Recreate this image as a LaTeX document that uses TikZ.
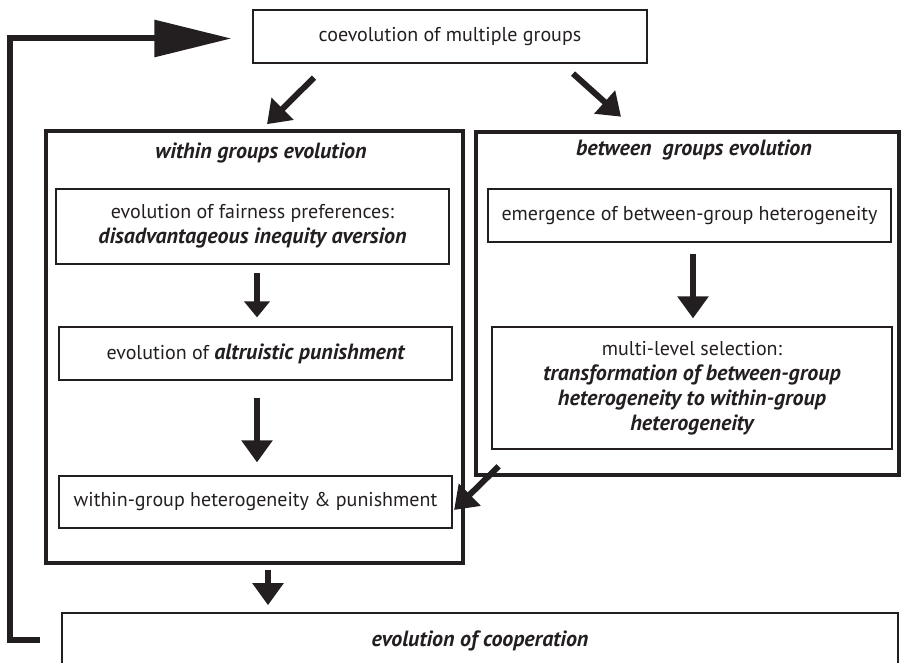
\documentclass[tikz,border=0pt]{standalone}
\usepackage{fontspec}
\setmainfont{PT Sans}
\usetikzlibrary{arrows.meta,calc}

\definecolor{ink}{RGB}{35,31,32}
\newcommand{\bfit}[1]{{\fontsize{11}{12.5}\selectfont\bfseries\itshape #1}}

\tikzset{
  box/.style={draw=ink, line width=.6pt, align=center, inner sep=0pt, text=ink},
  group/.style={draw=ink, line width=1.8pt, inner sep=0pt},
  title/.style={text=ink, font=\fontsize{11}{12.5}\selectfont\bfseries\itshape},
  flow/.style={draw=ink, line width=3pt, -{Triangle[length=11pt,width=15pt]}},
  back/.style={draw=ink, line width=3pt, line join=miter, -{Triangle[length=38.5pt,width=18pt]}},
}

\begin{document}
\begin{tikzpicture}[x=.5pt, y=-.5pt, font=\fontsize{10}{12.5}\selectfont]

\def \innerw {196.5pt}

\useasboundingbox (0,0) rectangle (902,663);

\node (top) [box, minimum width=197pt, minimum height=26.5pt] at (450,36.5) {coevolution of multiple groups};

% the two group frames
\node (leftgrp) [group, minimum width=208.5pt, minimum height=216pt] at (254.5,347) {};
\node (rightgrp) [group, minimum width=211.5pt, minimum height=171.5pt] at (687.5,303.5) {};

\node (lefttitle) [title] at ($(leftgrp.north)+(6.5,24)$) {within groups evolution};
\node (righttitle) [title] at ($(rightgrp.north)+(6.5,20)$) {between\ \ groups evolution};

% within groups
\node (fair) [box, minimum width=\innerw, minimum height=37.5pt] at (252.5,226.5)
  {evolution of fairness preferences:\\ \bfit{disadvantageous inequity aversion}};
\node (altr) [box, minimum width=\innerw, minimum height=26.5pt] at (255.5,353.5)
  {evolution of \bfit{altruistic punishment}};
\node (hetw) [box, minimum width=\innerw, minimum height=26pt] at (255.5,502)
  {within-group heterogeneity \& punishment};

% between groups
\node (emerg) [box, minimum width=201.5pt, minimum height=26.5pt] at (689.5,215.5)
  {emergence of between-group heterogeneity};
\node (mls) [box, minimum width=200pt, minimum height=61pt] at (692,388)
  {multi-level selection:\\ \bfit{transformation of between-group}\\
   \bfit{heterogeneity to within-group}\\ \bfit{heterogeneity}};

% runs off the bottom edge
\node (coop) [box, line width=.8pt, minimum width=418pt, minimum height=28pt, font=\fontsize{11}{12.5}\selectfont\bfseries\itshape] at (480,641)
  {evolution of cooperation};

\draw[flow] ($(top.south)+(-136,14)$) -- ($(leftgrp.north)+(12.5,-5)$);
\draw[flow] ($(top.south)+(123,10)$) -- ($(rightgrp.north)+(-66.5,-13.5)$);

\draw[flow, -{Triangle[length=8pt,width=12.5pt]}] ($(fair.south)+(4.5,8)$) -- ($(altr.north)+(1.5,-9)$);
\draw[flow] ($(altr.south)+(1.5,17)$) -- ($(hetw.north)+(1.5,-13)$);
\draw[flow] ($(emerg.south)+(3.5,11)$) -- ($(mls.north)+(1,-8)$);
\draw[flow] ($(rightgrp.south west)+(24.5,-10.5)$) -- ($(hetw.east)+(1.5,8)$);
\draw[flow] ($(leftgrp.south)+(13.5,5)$) -- ($(coop.north)+(-212,-7)$);

% feedback loop
\coordinate (corner) at (10,38.5);
\draw[back] ($(coop.west)+(-21,-1)$) -| (corner) -- ($(top.west)+(-21,2)$);

\end{tikzpicture}
\end{document}
